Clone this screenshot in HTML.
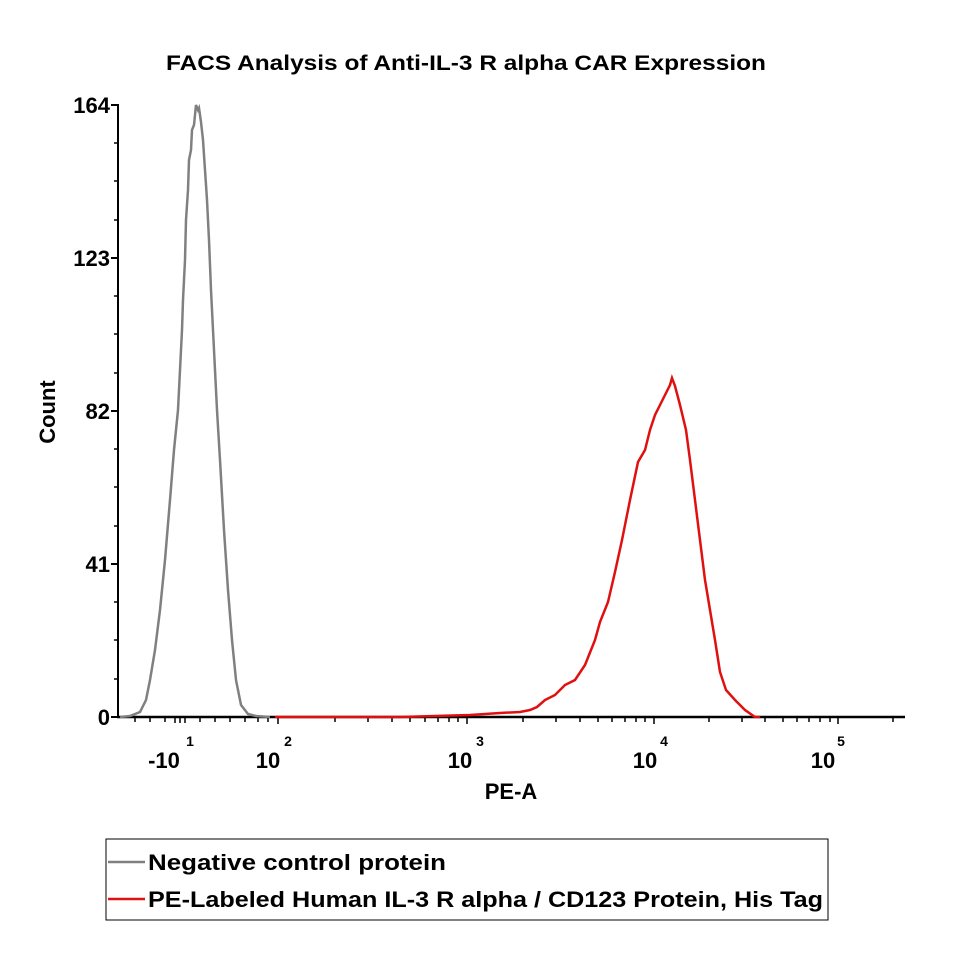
<!DOCTYPE html>
<html><head><meta charset="utf-8"><style>
body{margin:0;background:#fff}
svg text{font-family:"Liberation Sans",sans-serif;font-weight:bold;fill:#000}
</style></head><body>
<svg width="964" height="964" viewBox="0 0 964 964" xmlns="http://www.w3.org/2000/svg">
<rect width="964" height="964" fill="#fff"/>
<text x="466" y="70" font-size="21" text-anchor="middle" textLength="600" lengthAdjust="spacingAndGlyphs">FACS Analysis of Anti-IL-3 R alpha CAR Expression</text>
<!-- axes -->
<line x1="118" y1="104" x2="118" y2="718" stroke="#000" stroke-width="2"/>
<line x1="117" y1="717" x2="905" y2="717" stroke="#000" stroke-width="2.5"/>
<g stroke="#000" stroke-width="2">
<line x1="111" y1="105" x2="118" y2="105"/><line x1="111" y1="258" x2="118" y2="258"/><line x1="111" y1="411" x2="118" y2="411"/><line x1="111" y1="564" x2="118" y2="564"/><line x1="111" y1="717" x2="118" y2="717"/>
</g>
<g stroke="#000" stroke-width="1.5">
<line x1="114" y1="143" x2="118" y2="143"/><line x1="114" y1="181" x2="118" y2="181"/><line x1="114" y1="220" x2="118" y2="220"/>
<line x1="114" y1="296" x2="118" y2="296"/><line x1="114" y1="334" x2="118" y2="334"/><line x1="114" y1="373" x2="118" y2="373"/>
<line x1="114" y1="449" x2="118" y2="449"/><line x1="114" y1="487" x2="118" y2="487"/><line x1="114" y1="526" x2="118" y2="526"/>
<line x1="114" y1="602" x2="118" y2="602"/><line x1="114" y1="640" x2="118" y2="640"/><line x1="114" y1="679" x2="118" y2="679"/>
</g>
<g stroke="#000" stroke-width="1.5">
<path d="M135 717v5M150 717v5M165 717v5M175 717v6M180 717v6M185 717v6M200 717v5M215 717v5M230 717v5M245 717v5M258 717v5M268 717v5
M278 717v7M335 717v5M368 717v5M392 717v5M410 717v5M425 717v5M438 717v5M449 717v5M458 717v5
M467 717v7M523 717v5M556 717v5M580 717v5M598 717v5M612 717v5M625 717v5M636 717v5M645 717v5
M654 717v7M709 717v5M742 717v5M765 717v5M783 717v5M797 717v5M809 717v5M820 717v5M830 717v5M838 717v7M893 717v5"/>
</g>
<g font-size="22">
<text x="110" y="113" text-anchor="end">164</text>
<text x="110" y="266" text-anchor="end">123</text>
<text x="110" y="419" text-anchor="end">82</text>
<text x="110" y="572" text-anchor="end">41</text>
<text x="110" y="725" text-anchor="end">0</text>
<text x="164" y="768" text-anchor="middle">-10</text>
<text x="268" y="768" text-anchor="middle">10</text>
<text x="460" y="768" text-anchor="middle">10</text>
<text x="645" y="768" text-anchor="middle">10</text>
<text x="823" y="768" text-anchor="middle">10</text>
<text x="511" y="799" text-anchor="middle">PE-A</text>
<text transform="translate(55,412) rotate(-90)" text-anchor="middle">Count</text>
</g>
<g font-size="14">
<text x="190" y="746" text-anchor="middle">1</text>
<text x="288" y="746" text-anchor="middle">2</text>
<text x="480" y="746" text-anchor="middle">3</text>
<text x="664" y="746" text-anchor="middle">4</text>
<text x="841" y="746" text-anchor="middle">5</text>
</g>
<polyline fill="none" stroke="#808080" stroke-width="2.5" points="120,717 130,716 140,712 146,700 150,680 155,650 160,610 165,560 170,500 174,450 178,410 180,370 182,330 183,300 185,260 186,220 188,190 189,160 191,150 192,130 194,125 196,105 198,110 199,108 201,122 203,140 205,170 207,200 209,240 211,290 214,350 217,410 220,460 224,530 228,590 232,640 236,680 241,705 248,714 256,716 270,717"/>
<polyline fill="none" stroke="#e01010" stroke-width="2.5" points="275,717 400,717 470,715 500,713 520,712 530,710 537,707 545,700 555,695 565,685 575,680 585,665 595,640 600,622 608,602 615,572 622,540 630,500 638,462 645,450 650,430 655,415 660,405 665,395 670,385 672,378 675,386 680,405 686,430 690,460 695,500 700,540 705,580 710,610 715,640 720,672 726,690 735,700 745,710 755,717 760,717"/>
<!-- legend -->
<rect x="106" y="839" width="722" height="81" fill="none" stroke="#000" stroke-width="1"/>
<line x1="108" y1="862" x2="145" y2="862" stroke="#808080" stroke-width="2.5"/>
<line x1="108" y1="899" x2="145" y2="899" stroke="#e01010" stroke-width="2.5"/>
<text x="148" y="870" font-size="22" textLength="298" lengthAdjust="spacingAndGlyphs">Negative control protein</text>
<text x="148" y="907" font-size="22" textLength="675" lengthAdjust="spacingAndGlyphs">PE-Labeled Human IL-3 R alpha / CD123 Protein, His Tag</text>
</svg>
</body></html>
